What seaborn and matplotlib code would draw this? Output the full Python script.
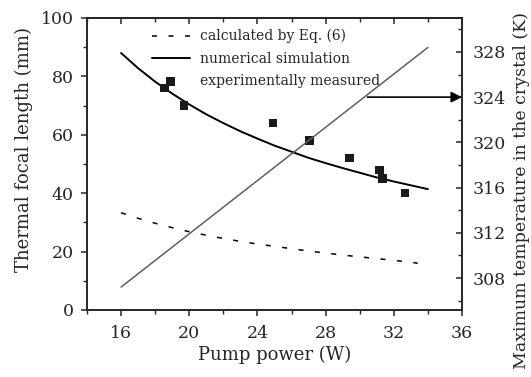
import matplotlib
matplotlib.use("Agg")
import matplotlib.pyplot as plt
from matplotlib.ticker import MultipleLocator
import seaborn as sns

# numerical simulation (solid)
power_sim = [16, 17, 18, 19, 20, 21, 22, 23, 24, 25, 26, 27, 28, 29, 30, 31, 32, 33, 34]
focal_sim = [88.0, 82.8, 78.2, 74.1, 70.4, 67.0, 64.0, 61.2, 58.7, 56.3,
             54.2, 52.1, 50.3, 48.6, 47.0, 45.4, 44.0, 42.7, 41.4]

# calculated by Eq. (6) (dashed)
power_eq = [16, 17, 18, 19, 20, 21, 22, 23, 24, 25, 26, 27, 28, 29, 30, 31, 32, 33, 33.4]
focal_eq = [33.3, 31.4, 29.7, 28.2, 26.8, 25.6, 24.5, 23.5, 22.6, 21.8,
            21.0, 20.2, 19.5, 18.8, 18.2, 17.6, 17.0, 16.4, 16.0]

# experimentally measured (squares)
power_meas = [18.55, 19.7, 24.9, 27.05, 29.4, 31.15, 31.35, 32.65]
focal_meas = [76.0, 70.0, 64.0, 58.0, 52.0, 48.0, 45.0, 40.0]

# maximum temperature (gray, right axis)
power_temp = [16, 34]
temp_max = [307.2, 328.4]

sns.set_style("ticks")
plt.rcParams["font.family"] = ["DejaVu Serif"]
plt.rcParams["mathtext.fontset"] = "dejavuserif"

fig = plt.figure(figsize=(5.31, 3.77), dpi=100)
ax = fig.add_axes([87 / 531, 67 / 377, 375 / 531, 292 / 377])
ax2 = ax.twinx()

sns.lineplot(x=power_eq, y=focal_eq, ax=ax, color="black", lw=1.1,
             linestyle=(0, (3.3, 7.5)), label="calculated by Eq. (6)")
sns.lineplot(x=power_sim, y=focal_sim, ax=ax, color="black", lw=1.4,
             label="numerical simulation")
sns.scatterplot(x=power_meas, y=focal_meas, ax=ax, marker="s", s=38,
                color="#1a1a1a", edgecolor="none", zorder=5,
                label="experimentally measured")
sns.lineplot(x=power_temp, y=temp_max, ax=ax2, color="#5f5f5f", lw=1.1)

ax.set_xlim(14, 36)
ax.set_ylim(0, 100)
ax2.set_ylim(305.17, 331.0)

ax.xaxis.set_minor_locator(MultipleLocator(2))
ax.yaxis.set_major_locator(MultipleLocator(20))
ax.yaxis.set_minor_locator(MultipleLocator(10))
ax2.yaxis.set_major_locator(MultipleLocator(4))
ax2.yaxis.set_minor_locator(MultipleLocator(2))
ax.set_xticks([16, 20, 24, 28, 32, 36])

for a in (ax, ax2):
    for s in a.spines.values():
        s.set_linewidth(1.2)
        s.set_visible(True)

ax.tick_params(axis="x", which="both", direction="out", top=False, labelsize=12.5, pad=6)
ax.tick_params(axis="x", which="major", length=4.5, width=1.1)
ax.tick_params(axis="x", which="minor", length=3, width=1.0)
ax.tick_params(axis="y", which="both", direction="out", labelsize=12.5, pad=5)
ax.tick_params(axis="y", which="major", length=4.5, width=1.1)
ax.tick_params(axis="y", which="minor", length=3, width=1.0)
ax2.tick_params(axis="y", which="both", direction="in", labelsize=12.5, pad=8)
ax2.tick_params(axis="y", which="major", length=4.5, width=1.1)
ax2.tick_params(axis="y", which="minor", length=3, width=1.0)

# top ticks pointing inward
axt = ax.secondary_xaxis("top")
axt.xaxis.set_major_locator(MultipleLocator(4))
axt.xaxis.set_minor_locator(MultipleLocator(2))
axt.tick_params(which="both", direction="in", labeltop=False)
axt.tick_params(which="major", length=4.5, width=1.1)
axt.tick_params(which="minor", length=3, width=1.0)
axt.spines["top"].set_linewidth(1.2)

ax.set_xlabel("Pump power (W)", fontsize=13, labelpad=3)
ax.set_ylabel("Thermal focal length (mm)", fontsize=13)
ax.yaxis.set_label_coords(-0.143, 0.55)
ax2.set_ylabel("Maximum temperature in the crystal (K)", fontsize=12.5)
ax2.yaxis.set_label_coords(1.135, 0.41)

ax2.annotate("", xy=(36, 324), xytext=(30.45, 324), xycoords="data",
             arrowprops=dict(arrowstyle="-|>", color="black", lw=1.2,
                             mutation_scale=16, shrinkA=0, shrinkB=0))

leg = ax.legend(loc="upper left", bbox_to_anchor=(0.172, 0.962), frameon=False,
                fontsize=10, handlelength=2.75, handletextpad=0.75,
                borderpad=0, borderaxespad=0, labelspacing=0.6, scatterpoints=1)

fig.savefig("out.png", dpi=100)
